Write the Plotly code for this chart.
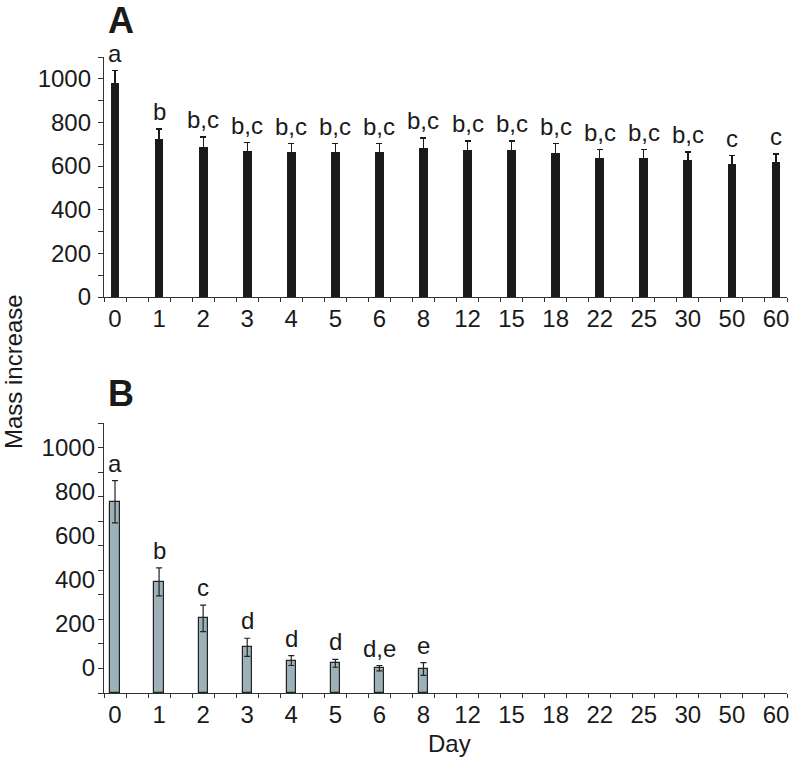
import plotly.graph_objects as go

# ---- data ----
days = ["0", "1", "2", "3", "4", "5", "6", "8", "12", "15", "18", "22", "25", "30", "50", "60"]

a_mean = [982, 725, 688, 670, 665, 665, 665, 683, 674, 674, 661, 638, 638, 628, 610, 619]
a_err = [55, 45, 46, 37, 37, 37, 37, 46, 41, 41, 41, 37, 37, 37, 37, 37]
a_letters = ["a", "b", "b,c", "b,c", "b,c", "b,c", "b,c", "b,c", "b,c", "b,c", "b,c",
             "b,c", "b,c", "b,c", "c", "c"]

b_mean = [779, 453, 304, 186, 132, 121, 101, 98, None, None, None, None, None, None, None, None]
b_err = [86, 57, 54, 37, 20, 16, 11, 26, None, None, None, None, None, None, None, None]
b_letters = ["a", "b", "c", "d", "d", "d", "d,e", "e", "", "", "", "", "", "", "", ""]

y_tick_vals = list(range(0, 1200, 100))
y_tick_text = ["0", "", "200", "", "400", "", "600", "", "800", "", "1000", ""]
b_label_vals = [0, 200, 400, 600, 800, 1000]
b_label_text = ["0", "200", "400", "600", "800", "1000"]

# ---- geometry ----
W, H = 796, 760
FONT = "Liberation Sans, Arial, sans-serif"
TXT = "#1a1a1a"
AX = "#333333"

x = list(range(len(days)))
x_minor = [-0.25 + 0.5 * k for k in range(2 * len(days) + 1)]


def pxx(px):
    return px / W


def pyy(px):
    return 1 - px / H


xdom = [pxx(104), pxx(787)]

fig = go.Figure()

fig.add_trace(go.Bar(
    x=x, y=a_mean, width=0.2, marker=dict(color="#1a1a1a", line=dict(width=0)),
    error_y=dict(type="data", array=a_err, color="#1a1a1a", thickness=1.3, width=3),
    xaxis="x", yaxis="y", showlegend=False, hoverinfo="skip"))

fig.add_trace(go.Bar(
    x=x, y=b_mean, width=0.21,
    marker=dict(color="#9db1b9", line=dict(color="#222222", width=1.2)),
    error_y=dict(type="data", array=b_err, color="#222222", thickness=1.2, width=3),
    xaxis="x2", yaxis="y2", showlegend=False, hoverinfo="skip"))

# invisible helper so the label axis of panel B is drawn
fig.add_trace(go.Scatter(
    x=[x[0]], y=[b_label_vals[0]], xaxis="x2", yaxis="y3", mode="markers",
    marker=dict(opacity=0), showlegend=False, hoverinfo="skip"))

LET = dict(size=24, color=TXT, family=FONT)
ann = []
for i, (m, e, t) in enumerate(zip(a_mean, a_err, a_letters)):
    ann.append(dict(x=i, y=m + e, xref="x", yref="y", text=t, showarrow=False,
                    yanchor="bottom", yshift=2, font=LET))
for i, (m, e, t) in enumerate(zip(b_mean, b_err, b_letters)):
    if m is None or not t:
        continue
    ann.append(dict(x=i, y=m + e, xref="x2", yref="y2", text=t, showarrow=False,
                    yanchor="bottom", yshift=2, font=LET))

ann += [
    dict(x=pxx(106), y=pyy(20.5), xref="paper", yref="paper", text="<b>A</b>",
         showarrow=False, xanchor="left", yanchor="middle",
         font=dict(size=36, color=TXT, family=FONT)),
    dict(x=pxx(106), y=pyy(393.5), xref="paper", yref="paper", text="<b>B</b>",
         showarrow=False, xanchor="left", yanchor="middle",
         font=dict(size=36, color=TXT, family=FONT)),
    dict(x=pxx(13), y=pyy(372), xref="paper", yref="paper", text="Mass increase",
         showarrow=False, textangle=-90, xanchor="center", yanchor="middle",
         font=dict(size=24, color=TXT, family=FONT)),
    dict(x=pxx(449), y=pyy(743), xref="paper", yref="paper", text="Day", showarrow=False,
         xanchor="center", yanchor="middle", font=dict(size=24, color=TXT, family=FONT)),
]

xaxis_common = dict(
    range=[-0.25, 15.25], tickmode="array", tickvals=x, ticktext=days, ticks="",
    showline=True, linecolor=AX, linewidth=1.3, showgrid=False, zeroline=False,
    tickfont=dict(size=24, color=TXT, family=FONT), domain=xdom, fixedrange=True,
    automargin=False, ticklabeloverflow="allow",
    minor=dict(tickmode="array", tickvals=x_minor, ticks="outside", ticklen=4,
               tickwidth=1.2, tickcolor=AX, showgrid=False),
)

fig.update_layout(
    width=W, height=H, margin=dict(l=0, r=0, t=0, b=0, pad=0, autoexpand=False),
    autosize=False, paper_bgcolor="white", plot_bgcolor="white", bargap=0,
    showlegend=False, font=dict(family=FONT, color=TXT),
    xaxis=dict(**xaxis_common, anchor="y"),
    yaxis=dict(domain=[pyy(297), pyy(57)], range=[0, 1100], anchor="x", fixedrange=True,
               tickmode="array", tickvals=y_tick_vals, ticktext=y_tick_text,
               ticks="outside", ticklen=5, tickwidth=1.2, tickcolor=AX, automargin=False,
               showline=True, linecolor=AX, linewidth=1.3, showgrid=False, zeroline=False,
               tickfont=dict(size=24, color=TXT, family=FONT), ticklabelstandoff=2),
    xaxis2=dict(**xaxis_common, anchor="y2"),
    yaxis2=dict(domain=[pyy(693), pyy(423)], range=[0, 1100], anchor="x2", fixedrange=True,
                tickmode="array", tickvals=y_tick_vals, showticklabels=False,
                ticks="outside", ticklen=5, tickwidth=1.2, tickcolor=AX, automargin=False,
                showline=True, linecolor=AX, linewidth=1.3, showgrid=False, zeroline=False),
    yaxis3=dict(domain=[pyy(693), pyy(423)], range=[-113.6, 1113.6], anchor="x2",
                overlaying="y2", side="left", tickmode="array", fixedrange=True,
                tickvals=b_label_vals, ticktext=b_label_text, ticks="", automargin=False,
                showline=False, showgrid=False, zeroline=False,
                tickfont=dict(size=24, color=TXT, family=FONT), ticklabelstandoff=8),
    annotations=ann,
)

fig.write_html("out.html", config={"displayModeBar": False},
               post_script="document.body.style.margin='0';")
